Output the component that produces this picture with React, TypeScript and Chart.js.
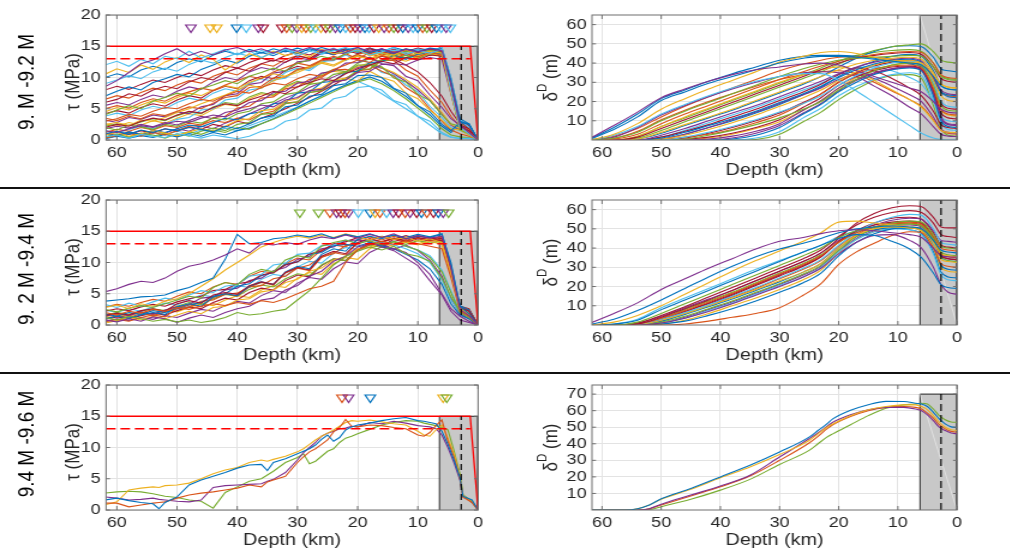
import React, { useEffect, useRef } from 'react';
import { Chart, registerables } from 'chart.js';

Chart.register(...registerables);

// ---------------- data ----------------
const ROW_LABELS = ['9. M -9.2 M', '9. 2 M -9.4 M', '9.4 M -9.6 M'];
const DEPTH_TICKS = [0, 10, 20, 30, 40, 50, 60];
const TAU_TICKS = [0, 5, 10, 15, 20];
const SLIP_TICKS_A = [10, 20, 30, 40, 50, 60];
const SLIP_TICKS_B = [10, 20, 30, 40, 50, 60, 70];

// reference levels (MPa / km)
const STRENGTH = 15;
const DYN_LEVEL = 13;
const TAPER_DEPTH = 1.3;
const TAU_ZONE_DEPTH = 6.4;
const TAU_LOCK_DEPTH = 2.8;
const SLIP_ZONE_DEPTH = 6.25;
const SLIP_LOCK_DEPTH = 2.7;
const SLIP_MAX = [65, 65, 75.5];
const SLIP_ZONE_TOP = [65, 65, 70];
const TRI_LEVEL = 18;

const TAU_DEPTH = [62, 60, 58, 56, 54, 52, 50, 48, 46, 44, 42, 40, 38, 36, 34, 32, 30, 28, 26, 24, 22, 20, 18, 16, 14, 12, 10, 8, 6, 4.5, 3, 1.5, 0];

const TAU_ROW1 = [
  [8.5, 9.5, 10.8, 12.2, 12.8, 13.8, 14.6, 13.5, 14.2, 13.6, 14.4, 14.8, 14.1, 14.6, 13.9, 14.7, 14.2, 14.8, 14.3, 14.6, 14.0, 14.8, 14.2, 14.6, 13.9, 14.5, 14.1, 14.6, 14.3, 9, 2.5, 1.2, 0],
  [12, 12.6, 11.8, 12.9, 12.2, 13.4, 13.0, 14.2, 13.1, 13.8, 14.5, 13.6, 14.3, 13.2, 14.0, 14.6, 13.5, 14.2, 13.8, 14.7, 13.9, 14.4, 13.6, 14.1, 14.8, 13.7, 14.3, 13.9, 14.5, 8, 2, 1, 0],
  [10.5, 11.4, 10.8, 12.0, 11.3, 12.5, 13.2, 12.4, 13.6, 12.9, 11.2, 12.5, 13.8, 13.1, 14.2, 13.5, 14.0, 13.3, 14.5, 13.8, 14.1, 14.6, 13.4, 14.0, 13.6, 14.4, 13.8, 14.2, 13.9, 7.5, 1.8, 1.2, 0],
  [7.0, 7.8, 8.5, 8.0, 9.2, 9.8, 10.5, 10.1, 11.3, 12.0, 12.8, 12.3, 13.4, 14.0, 13.5, 14.3, 13.8, 14.6, 14.1, 13.7, 14.4, 14.8, 14.0, 14.5, 13.8, 14.6, 14.2, 14.7, 14.5, 9.5, 3.0, 2.5, 0],
  [6.0, 6.5, 7.4, 7.0, 8.0, 8.6, 8.2, 9.3, 10.0, 9.6, 10.8, 11.5, 11.0, 12.2, 12.8, 12.4, 13.5, 13.0, 14.2, 13.6, 14.4, 13.8, 14.6, 14.1, 13.7, 14.4, 14.0, 14.6, 14.2, 8.5, 2.2, 1.5, 0],
  [4.0, 4.8, 5.5, 5.0, 6.2, 6.8, 7.5, 7.0, 8.2, 8.8, 9.5, 9.0, 10.2, 10.8, 11.5, 11.0, 12.3, 12.8, 13.4, 12.9, 13.8, 14.3, 13.6, 14.0, 13.5, 14.2, 13.8, 14.4, 14.0, 7.8, 1.6, 1.0, 0],
  [3.0, 3.4, 4.1, 3.8, 4.6, 5.2, 5.0, 5.8, 6.5, 6.2, 7.1, 7.8, 7.5, 8.4, 9.1, 8.8, 9.8, 10.5, 10.2, 11.3, 12.0, 12.8, 12.4, 13.5, 13.0, 13.8, 13.3, 14.0, 13.6, 8.2, 2.0, 1.3, 0],
  [2.0, 2.5, 2.2, 3.0, 3.5, 3.2, 4.0, 4.6, 4.3, 5.2, 5.8, 5.5, 6.4, 7.0, 7.8, 7.4, 8.5, 9.2, 9.8, 9.5, 10.6, 11.4, 12.0, 12.6, 12.2, 13.2, 12.8, 13.6, 13.4, 8.0, 2.4, 1.8, 0],
  [1.5, 1.2, 1.8, 2.3, 2.0, 2.6, 3.0, 2.8, 3.5, 4.0, 3.7, 4.5, 5.0, 5.6, 5.3, 6.4, 6.8, 7.9, 8.1, 9.3, 9.6, 10.8, 11.0, 12.1, 12.2, 12.0, 12.8, 13.2, 12.9, 7.4, 1.9, 1.4, 0],
  [2.5, 2.8, 2.3, 3.2, 3.0, 3.6, 4.4, 5.0, 5.8, 6.5, 7.2, 8.0, 8.8, 8.3, 9.5, 10.2, 10.8, 11.6, 12.3, 11.8, 12.8, 13.4, 12.9, 13.6, 13.1, 12.6, 13.3, 13.9, 13.5, 8.6, 2.6, 1.6, 0],
  [0.5, 0.8, 0.3, 0.9, 0.6, 0.4, 1.0, 0.7, 0.3, 0.8, 0.5, 0.2, 0.6, 1.4, 1.8, 3.0, 3.4, 4.8, 5.1, 6.6, 7.0, 8.4, 8.6, 8.0, 6.3, 5.7, 3.8, 3.0, 1.2, 0.5, 0.2, 0.3, 0],
  [1.0, 1.4, 0.9, 1.6, 1.2, 1.8, 1.5, 2.0, 1.7, 1.3, 2.2, 1.8, 2.6, 3.5, 3.9, 5.3, 5.6, 7.0, 7.3, 8.7, 9.0, 10.3, 10.4, 10.0, 8.3, 7.5, 5.5, 4.5, 2.5, 1.5, 2.8, 1.4, 0],
  [2.0, 1.6, 2.4, 2.1, 1.7, 2.5, 2.2, 3.0, 2.7, 3.5, 3.2, 4.2, 4.6, 5.8, 6.1, 7.3, 7.6, 8.9, 9.2, 10.5, 10.8, 12.0, 12.0, 11.7, 9.9, 9.3, 7.3, 6.3, 4.0, 2.6, 2.2, 1.2, 0],
  [0.8, 1.2, 0.6, 1.0, 1.5, 1.1, 0.7, 1.3, 1.8, 1.4, 2.2, 3.1, 3.4, 4.7, 4.9, 6.2, 6.6, 7.9, 8.3, 9.6, 9.9, 9.4, 11.0, 10.0, 9.4, 7.5, 6.6, 4.8, 3.2, 1.8, 1.6, 0.8, 0],
  [1.8, 2.2, 1.9, 2.5, 2.1, 2.8, 2.4, 3.1, 3.8, 3.4, 4.4, 4.8, 6.0, 6.3, 7.6, 7.8, 9.1, 9.4, 10.7, 11.0, 12.3, 12.4, 13.2, 12.2, 11.9, 10.2, 9.5, 7.2, 5.2, 3.4, 2.4, 1.6, 0],
  [3.5, 3.1, 3.8, 3.4, 4.2, 3.9, 4.6, 5.3, 5.0, 5.9, 6.8, 7.1, 8.4, 8.6, 9.9, 10.1, 11.3, 11.6, 12.8, 12.8, 13.8, 13.0, 14.0, 13.0, 12.7, 11.2, 10.2, 8.0, 6.0, 3.8, 2.1, 1.3, 0],
  [1.0, 0.6, 1.3, 0.9, 1.5, 1.2, 1.8, 2.4, 2.1, 2.8, 3.5, 3.2, 4.2, 4.5, 5.8, 6.0, 7.5, 7.7, 9.2, 9.4, 10.8, 11.0, 12.4, 12.5, 13.6, 12.9, 13.7, 14.1, 13.8, 9.0, 2.8, 2.6, 0],
  [0.5, 0.9, 0.4, 1.1, 0.8, 0.3, 1.0, 0.6, 1.4, 1.9, 1.5, 2.5, 2.8, 4.1, 4.3, 5.8, 6.1, 7.6, 7.9, 9.4, 9.7, 11.2, 11.4, 12.7, 12.8, 13.6, 13.1, 13.8, 13.4, 8.8, 2.4, 1.5, 0],
  [5.0, 5.5, 5.1, 6.0, 6.6, 6.2, 7.1, 7.7, 8.3, 7.9, 8.8, 9.5, 10.2, 9.8, 10.9, 11.6, 12.3, 11.9, 12.8, 13.4, 12.9, 13.7, 14.2, 13.6, 14.1, 13.5, 14.3, 13.9, 14.4, 9.2, 2.6, 1.7, 0],
  [9.0, 9.6, 10.3, 9.8, 10.9, 11.5, 11.0, 12.1, 12.8, 12.3, 13.2, 13.9, 13.4, 14.3, 13.8, 14.5, 14.0, 14.6, 13.7, 14.3, 14.8, 14.1, 14.6, 13.9, 14.4, 14.0, 14.6, 14.2, 14.8, 9.8, 3.2, 2.0, 0],
  [8.0, 8.6, 8.1, 8.9, 9.6, 9.2, 10.0, 10.7, 10.3, 11.2, 11.9, 11.5, 12.4, 13.1, 12.6, 13.5, 14.1, 13.6, 14.4, 13.9, 14.6, 14.2, 14.7, 14.0, 14.5, 14.1, 14.7, 14.3, 14.6, 9.4, 3.0, 1.9, 0],
  [4.5, 5.2, 4.8, 5.6, 6.3, 5.9, 6.8, 7.5, 7.1, 8.0, 8.7, 8.3, 9.2, 9.9, 10.6, 10.2, 11.1, 11.8, 12.5, 12.0, 12.9, 13.5, 13.0, 13.8, 13.3, 14.0, 13.5, 14.2, 13.8, 8.4, 2.2, 1.4, 0],
  [3.2, 2.8, 3.6, 3.3, 4.0, 3.7, 4.5, 4.2, 5.3, 5.7, 7.1, 7.4, 8.9, 9.2, 10.7, 11.0, 12.5, 12.7, 13.9, 14.0, 13.8, 14.5, 13.9, 14.6, 14.0, 14.4, 13.8, 14.3, 14.0, 8.6, 2.3, 1.4, 0],
  [1.2, 1.7, 1.4, 2.0, 1.6, 2.3, 2.0, 2.7, 2.4, 3.1, 2.8, 3.5, 3.2, 4.2, 4.6, 5.9, 6.1, 7.6, 7.9, 9.3, 9.6, 11.1, 11.3, 12.7, 12.8, 13.9, 13.0, 13.9, 13.5, 8.0, 1.9, 1.2, 0],
  [0.3, 0.7, 1.1, 0.6, 1.2, 0.8, 1.5, 2.2, 2.4, 3.6, 3.8, 5.1, 5.4, 6.7, 6.9, 8.2, 8.5, 9.7, 10.0, 11.2, 11.3, 10.8, 12.0, 11.0, 10.2, 8.4, 7.2, 5.0, 3.0, 1.6, 1.0, 0.6, 0],
  [1.5, 1.1, 1.7, 2.2, 1.8, 2.5, 3.3, 3.6, 4.8, 5.0, 6.4, 6.7, 8.0, 8.3, 9.6, 9.9, 11.2, 11.4, 12.6, 12.7, 13.6, 12.8, 12.4, 10.8, 10.4, 8.8, 7.7, 5.4, 3.6, 2.0, 1.5, 0.8, 0],
  [10.0, 10.6, 10.1, 11.2, 11.8, 11.3, 12.4, 13.0, 12.5, 13.6, 14.2, 13.7, 14.5, 13.9, 14.6, 14.1, 14.7, 14.2, 14.8, 14.3, 14.6, 14.0, 14.7, 14.2, 14.8, 14.3, 14.6, 14.1, 14.7, 9.9, 3.4, 2.6, 0],
  [6.5, 7.1, 6.7, 7.6, 8.3, 7.9, 8.8, 9.5, 9.1, 10.2, 10.9, 10.4, 11.5, 12.2, 11.8, 12.9, 13.5, 13.1, 14.0, 14.5, 13.9, 14.4, 13.8, 14.5, 14.0, 14.6, 14.1, 14.5, 14.2, 9.1, 2.7, 1.9, 0],
  [2.2, 2.6, 2.3, 2.9, 3.4, 3.1, 3.9, 4.5, 4.2, 5.3, 6.0, 5.7, 6.9, 7.6, 7.2, 8.6, 9.4, 9.0, 10.5, 11.3, 10.9, 12.3, 13.0, 12.6, 13.6, 13.2, 13.9, 13.5, 14.0, 8.9, 2.5, 1.7, 0],
  [3.8, 4.3, 3.9, 4.8, 5.4, 5.0, 6.0, 6.7, 6.3, 7.5, 8.2, 7.8, 9.1, 9.8, 9.4, 10.8, 11.5, 11.1, 12.4, 13.1, 12.7, 13.8, 14.3, 13.8, 14.2, 13.7, 14.4, 13.9, 14.1, 8.7, 2.1, 1.3, 0],
  [0.8, 1.3, 0.9, 1.5, 1.1, 1.8, 1.4, 2.1, 1.7, 2.5, 2.1, 3.0, 2.6, 3.5, 4.2, 5.0, 5.9, 6.8, 7.8, 8.8, 9.9, 10.9, 11.9, 12.8, 13.5, 13.1, 13.8, 14.2, 13.9, 9.3, 3.1, 2.3, 0],
  [5.5, 6.0, 5.6, 6.5, 7.2, 6.8, 7.8, 8.5, 8.1, 9.3, 10.0, 9.6, 10.9, 11.6, 11.2, 12.5, 13.2, 12.8, 13.9, 14.4, 13.8, 14.5, 14.0, 14.6, 13.9, 14.4, 13.8, 14.5, 14.0, 8.8, 2.4, 1.6, 0],
  [0.4, 0.8, 0.5, 1.0, 0.6, 1.1, 0.7, 1.3, 0.9, 1.6, 1.2, 2.0, 1.7, 2.6, 3.3, 4.1, 5.0, 5.9, 6.8, 7.7, 8.6, 9.3, 9.8, 9.0, 7.9, 6.6, 5.1, 3.6, 1.8, 0.8, 0.5, 0.4, 0],
  [2.6, 2.2, 2.8, 2.4, 3.1, 2.7, 3.5, 4.2, 3.9, 4.9, 5.7, 5.4, 6.6, 7.4, 7.1, 8.4, 9.2, 8.9, 10.3, 11.0, 10.7, 11.8, 12.3, 11.6, 10.8, 9.7, 8.4, 6.6, 4.4, 2.5, 1.8, 1.1, 0],
  [4.2, 4.7, 4.3, 5.2, 5.8, 5.4, 6.4, 7.1, 6.7, 7.9, 8.6, 8.2, 9.5, 10.2, 9.8, 11.1, 11.8, 11.4, 12.6, 13.2, 12.8, 13.6, 13.1, 13.4, 12.9, 12.0, 10.9, 9.2, 7.0, 4.6, 2.6, 1.5, 0],
  [0.2, 0.6, 0.3, 0.7, 0.4, 0.9, 0.5, 1.0, 0.6, 1.2, 0.8, 1.5, 1.9, 2.6, 3.4, 4.3, 5.2, 6.2, 7.1, 8.0, 8.8, 9.5, 10.1, 9.4, 8.2, 7.0, 5.5, 4.0, 2.2, 1.2, 2.5, 1.3, 0],
  [1.1, 0.7, 1.3, 0.9, 1.5, 1.1, 1.8, 1.4, 2.2, 1.8, 2.7, 3.4, 4.2, 5.0, 5.8, 6.7, 7.5, 8.4, 9.2, 10.1, 10.9, 11.6, 12.1, 11.5, 10.6, 9.4, 8.0, 6.3, 4.2, 2.4, 1.6, 0.9, 0],
  [0.9, 0.5, 1.1, 0.7, 1.2, 0.8, 1.4, 1.0, 1.6, 1.2, 1.9, 1.5, 2.3, 3.0, 3.7, 4.5, 5.3, 6.2, 7.0, 7.9, 8.7, 9.4, 8.6, 7.4, 6.2, 5.0, 3.8, 2.4, 1.0, 0.4, 0.3, 0.2, 0],
];
const TAU_ROW1_COLORS = [3, 5, 2, 0, 6, 4, 1, 6, 3, 2, 5, 0, 4, 2, 3, 1, 0, 4, 1, 5, 6, 2, 3, 1, 1, 5, 0, 1, 4, 5, 6, 3, 4, 2, 6, 0, 3, 5];

const TAU_ROW2 = [
  [5.3, 5.8, 6.5, 7.0, 6.8, 7.5, 8.6, 9.4, 9.8, 10.4, 11.2, 12.2, 11.5, 13.0, 12.8, 13.2, 12.9, 13.6, 14.1, 13.8, 14.4, 13.9, 14.5, 14.0, 14.6, 13.8, 14.3, 13.9, 14.2, 9.0, 2.5, 1.5, 0],
  [3.8, 4.0, 4.2, 4.5, 4.6, 4.8, 5.5, 6.0, 6.8, 7.5, 10.5, 14.5, 13.0, 13.2, 13.8, 14.0, 14.4, 14.1, 14.6, 13.9, 14.5, 14.1, 14.6, 14.0, 14.4, 13.8, 14.2, 14.0, 14.5, 10.0, 3.0, 1.8, 0],
  [2.8, 3.2, 2.6, 3.4, 3.0, 3.8, 4.2, 5.0, 6.2, 7.4, 8.8, 10.0, 11.2, 12.5, 13.2, 13.8, 14.2, 13.9, 14.4, 14.0, 14.6, 14.1, 13.6, 14.2, 13.7, 14.0, 13.4, 13.8, 13.2, 8.5, 2.4, 1.6, 0],
  [2.0, 1.6, 2.2, 1.9, 2.5, 2.2, 2.8, 2.5, 3.0, 3.4, 3.1, 3.6, 3.3, 3.9, 3.6, 4.2, 5.0, 5.8, 6.2, 7.0, 10.0, 12.0, 12.8, 13.4, 12.9, 13.5, 13.0, 12.6, 12.2, 7.6, 2.2, 1.4, 0],
  [1.2, 0.8, 1.4, 1.0, 0.6, 0.9, 0.5, 0.8, 0.4, 0.7, 1.2, 2.0, 1.6, 1.8, 2.2, 2.5, 4.0, 5.5, 7.5, 9.6, 11.0, 11.8, 12.5, 12.0, 12.6, 11.4, 11.0, 10.2, 7.5, 4.5, 2.2, 1.5, 0],
  [1.5, 1.9, 1.6, 2.3, 2.6, 2.2, 3.4, 3.9, 3.5, 4.8, 5.2, 4.9, 6.3, 6.9, 6.5, 8.4, 9.2, 8.8, 11.0, 11.8, 11.4, 13.2, 13.8, 13.3, 13.9, 13.5, 14.0, 13.6, 13.9, 8.8, 2.8, 2.2, 0],
  [1.0, 1.4, 1.1, 1.6, 2.0, 1.7, 2.9, 3.4, 3.0, 4.5, 5.0, 4.7, 6.2, 6.9, 6.5, 8.5, 9.4, 9.0, 11.3, 12.2, 11.8, 13.7, 14.2, 13.8, 14.4, 14.0, 14.5, 14.1, 14.6, 9.6, 3.1, 2.4, 0],
  [2.5, 2.1, 2.7, 3.1, 2.8, 3.4, 4.0, 4.6, 4.3, 6.0, 6.8, 6.4, 8.1, 8.9, 8.5, 10.4, 11.1, 10.7, 12.6, 13.2, 13.6, 13.0, 13.5, 12.8, 13.3, 12.6, 12.0, 10.8, 8.5, 5.2, 2.0, 1.2, 0],
  [0.8, 0.5, 1.0, 0.6, 1.3, 1.0, 0.4, 1.1, 1.6, 1.2, 2.0, 2.6, 3.0, 4.0, 4.3, 5.6, 6.3, 7.8, 8.6, 10.2, 11.0, 12.5, 13.0, 12.9, 12.2, 11.6, 10.0, 8.1, 5.0, 2.6, 1.4, 0.6, 0],
  [3.3, 2.8, 3.5, 3.0, 3.7, 4.3, 4.0, 4.8, 5.5, 5.2, 6.2, 6.5, 7.8, 8.1, 9.6, 9.9, 11.3, 11.5, 12.7, 12.8, 13.6, 13.1, 13.7, 13.2, 12.8, 12.2, 11.4, 10.0, 7.2, 4.0, 2.0, 1.4, 0],
  [0.5, 0.9, 0.6, 1.2, 1.6, 1.3, 2.7, 3.3, 2.9, 4.4, 5.0, 4.6, 6.1, 6.8, 6.4, 8.3, 9.1, 8.7, 10.8, 11.6, 11.2, 13.1, 13.7, 13.2, 13.8, 13.4, 13.9, 13.5, 13.8, 8.9, 2.9, 2.5, 0],
  [0.3, 0.7, 1.2, 0.8, 1.4, 1.0, 1.6, 2.2, 1.8, 2.8, 3.0, 4.0, 4.2, 5.3, 5.6, 6.8, 7.3, 8.6, 9.1, 10.4, 10.9, 12.2, 12.4, 13.3, 12.6, 13.3, 12.8, 13.4, 12.9, 8.2, 2.6, 1.8, 0],
  [2.2, 2.6, 2.3, 2.9, 3.3, 3.0, 3.7, 4.2, 4.6, 5.5, 5.7, 6.6, 6.9, 8.0, 8.4, 9.6, 10.1, 11.4, 11.8, 13.0, 13.3, 14.0, 13.6, 14.2, 13.7, 14.3, 13.8, 14.0, 13.5, 8.6, 3.0, 2.6, 0],
  [1.8, 1.4, 2.0, 1.7, 2.3, 2.0, 2.6, 3.2, 3.6, 4.6, 5.0, 6.2, 6.6, 7.9, 8.4, 9.7, 10.1, 11.3, 11.6, 12.7, 12.9, 12.6, 13.2, 12.7, 12.2, 11.3, 10.4, 9.0, 6.5, 3.4, 1.6, 1.0, 0],
  [1.4, 1.8, 1.5, 2.1, 1.7, 2.4, 2.9, 3.3, 4.3, 4.5, 5.6, 5.9, 7.1, 7.5, 8.7, 9.2, 10.5, 11.0, 12.2, 12.5, 13.5, 13.6, 13.3, 12.5, 11.9, 10.7, 9.5, 7.1, 4.8, 2.2, 0.8, 0.4, 0],
  [1.0, 1.5, 1.2, 1.8, 1.5, 2.1, 2.6, 2.9, 3.8, 4.0, 4.9, 5.1, 6.1, 6.3, 7.4, 7.8, 9.1, 9.6, 10.9, 11.4, 12.7, 13.0, 13.8, 13.3, 13.9, 13.4, 14.0, 13.6, 14.2, 9.0, 2.7, 2.2, 0],
  [1.6, 2.0, 1.7, 2.2, 2.6, 2.3, 3.0, 3.6, 3.3, 4.2, 4.9, 4.6, 5.7, 6.4, 6.1, 7.4, 8.2, 7.9, 9.6, 10.6, 10.3, 12.0, 12.8, 12.4, 13.4, 12.9, 13.5, 13.1, 13.4, 8.4, 2.6, 1.9, 0],
  [0.9, 1.3, 1.0, 1.5, 1.9, 1.6, 2.3, 2.9, 2.6, 3.6, 4.3, 4.0, 5.2, 5.9, 5.6, 7.1, 8.0, 7.7, 9.5, 10.6, 10.3, 12.1, 13.0, 12.6, 13.7, 13.2, 13.8, 13.4, 13.6, 8.6, 2.9, 2.4, 0],
  [2.4, 2.0, 2.6, 2.2, 2.9, 3.5, 3.2, 4.1, 4.8, 4.5, 5.6, 6.3, 6.0, 7.3, 8.1, 7.8, 9.3, 10.2, 9.9, 11.5, 12.4, 12.1, 13.3, 12.9, 13.4, 12.6, 12.0, 11.1, 8.8, 5.5, 2.2, 1.3, 0],
  [1.3, 1.7, 1.4, 2.0, 1.7, 2.4, 2.1, 2.8, 3.4, 3.1, 4.0, 4.7, 4.4, 5.6, 6.3, 6.0, 7.5, 8.4, 8.1, 9.8, 10.8, 10.5, 12.2, 13.0, 12.6, 13.5, 13.0, 13.6, 13.2, 8.3, 2.5, 1.7, 0],
  [2.9, 3.3, 3.0, 3.6, 4.1, 3.8, 4.6, 5.3, 5.0, 6.1, 6.8, 6.5, 7.8, 8.6, 8.3, 9.8, 10.7, 10.4, 12.0, 12.8, 12.5, 13.6, 14.1, 13.6, 14.2, 13.7, 14.3, 13.8, 14.1, 9.2, 2.8, 2.3, 0],
  [0.6, 1.0, 0.7, 1.2, 0.9, 1.5, 1.2, 1.9, 2.5, 2.2, 3.1, 3.8, 3.5, 4.7, 5.5, 5.2, 6.7, 7.6, 7.3, 9.0, 10.1, 9.8, 11.6, 12.5, 12.1, 12.8, 11.9, 10.4, 7.8, 4.2, 1.8, 1.0, 0],
];
const TAU_ROW2_COLORS = [3, 0, 2, 1, 4, 6, 0, 4, 3, 5, 1, 2, 6, 0, 3, 1, 4, 6, 5, 2, 1, 3];

const TAU3_DEPTH = [62, 60, 58, 56, 54, 53, 52, 50, 48, 46, 44, 42, 40, 38, 36, 35, 34, 32, 30, 29, 28, 27, 26, 25, 24, 23, 22, 21, 20, 18, 16, 14, 12, 10, 9, 8, 7, 6, 5, 4, 3, 2.5, 2, 1, 0];
const TAU_ROW3 = [
  [1.6, 1.9, 1.5, 1.2, 1.0, 0.2, 1.2, 2.1, 4.0, 4.8, 5.4, 6.0, 6.7, 7.2, 7.3, 6.3, 7.6, 8.2, 9.0, 9.4, 9.8, 10.4, 11.3, 12.0, 11.0, 11.6, 12.8, 13.3, 13.6, 13.9, 14.3, 14.6, 14.8, 14.3, 14.2, 14.0, 13.8, 12.6, 10.5, 8.0, 5.2, 2.2, 2.0, 1.6, 0],
  [1.1, 1.1, 0.5, 0.8, 1.1, 1.2, 1.3, 1.9, 2.4, 2.7, 2.9, 3.2, 3.5, 4.0, 3.7, 4.5, 4.8, 5.4, 7.6, 8.5, 9.3, 9.8, 10.5, 11.2, 12.5, 13.2, 14.5, 13.4, 13.3, 13.6, 13.5, 13.2, 13.0, 12.0, 11.8, 12.4, 13.5, 14.4, 11.0, 8.5, 5.0, 2.0, 1.8, 1.2, 0],
  [0.8, 1.3, 3.2, 3.5, 3.7, 3.6, 3.9, 4.0, 4.3, 5.0, 5.8, 6.4, 6.8, 7.6, 8.0, 7.8, 8.1, 8.6, 9.3, 9.8, 10.5, 11.2, 11.8, 12.3, 12.8, 13.4, 14.0, 14.3, 14.2, 14.4, 14.1, 13.8, 13.6, 12.6, 12.0, 11.8, 12.8, 13.6, 11.5, 9.0, 5.4, 2.3, 2.0, 1.3, 0],
  [2.1, 1.9, 1.6, 1.7, 1.9, 1.7, 1.6, 1.4, 1.3, 1.6, 3.6, 3.9, 4.0, 4.1, 4.2, 4.6, 4.9, 6.0, 8.0, 9.2, 10.0, 10.8, 11.8, 12.3, 12.6, 13.0, 13.1, 13.4, 13.3, 14.0, 13.8, 14.2, 13.9, 13.5, 13.4, 13.3, 13.0, 12.0, 10.0, 7.6, 4.8, 2.2, 1.9, 1.2, 0],
  [2.7, 2.9, 3.0, 2.9, 2.6, 2.4, 2.2, 2.0, 1.6, 1.4, 0.3, 2.8, 3.7, 4.6, 5.0, 5.6, 6.2, 7.6, 8.4, 9.0, 7.4, 7.8, 8.6, 9.4, 9.8, 10.8, 11.5, 11.8, 12.2, 12.9, 13.6, 14.0, 14.3, 14.2, 13.9, 13.7, 13.5, 13.2, 12.8, 9.5, 5.8, 2.4, 2.1, 1.4, 0],
];
const TAU_ROW3_COLORS = [0, 1, 2, 3, 4];

const SLIP_DEPTH = [62, 58, 54, 50, 46, 42, 38, 34, 30, 26, 23, 20, 17, 14, 11, 8, 6, 4, 2.7, 1.5, 0];
const SLIP_ROW1 = [
  [1, 7.5, 14.5, 22, 26.5, 30.5, 34, 36.5, 38, 39.5, 40, 39, 36, 33, 30, 27, 25, 20, 16, 14.5, 14],
  [0.5, 5.5, 12, 20.5, 25, 29.5, 33, 36.5, 40, 42.5, 43.5, 43.5, 43, 42, 41, 40, 39, 33, 28, 26.5, 26],
  [0, 3, 8.5, 16, 21.5, 26.5, 31, 35.5, 40.5, 43.5, 45.5, 46, 45, 43, 41.5, 40.5, 40, 34, 29, 27.5, 27],
  [0, 2.5, 7, 13.5, 18.5, 23, 27, 30.5, 33, 34.5, 34.5, 31, 25.5, 19.5, 13.5, 7.5, 3.5, 1, 0.3, 0, 0],
  [0, 1, 4, 10, 15, 19.5, 24, 28.5, 33, 37, 39.5, 41.5, 42.5, 43, 43.5, 44, 43.5, 38, 33, 31.5, 31],
  [0, 0.5, 3, 8.5, 13.5, 18, 22.5, 27, 31.5, 35.5, 38.5, 41, 43, 44.5, 45.5, 46, 45.5, 40, 34, 32.5, 32],
  [0, 0, 1.5, 6, 10.5, 15, 19.5, 24, 28.5, 33, 36.5, 40, 42.5, 44, 45, 45.5, 44.5, 38, 32, 30.5, 30],
  [0, 0, 0.5, 4, 8, 12, 16, 20.5, 25, 29.5, 33, 36.5, 39.5, 41.5, 42.5, 43, 42, 35, 29, 27.5, 27],
  [0, 0, 0, 2.5, 6, 10, 14, 18, 22.5, 27, 30.5, 34.5, 38, 40.5, 42, 42.5, 41, 33, 26, 24, 23.5],
  [0, 0, 0, 1, 4, 7.5, 11, 15, 19.5, 24, 28, 32.5, 36.5, 39.5, 41.5, 42, 40.5, 33, 25, 22.5, 22],
  [0, 0, 0, 0.5, 2.5, 5.5, 9, 13, 17.5, 22, 26, 31, 35.5, 39, 41, 41.5, 40, 31, 23, 20.5, 20],
  [0, 0, 0, 0, 1.5, 4, 7, 10.5, 14.5, 19, 23, 28.5, 33.5, 37.5, 40, 41, 39.5, 30, 20, 17.5, 17],
  [0, 0, 0, 0, 0.5, 2.5, 5, 8, 11.5, 16, 20, 26, 31.5, 36, 39, 40, 38.5, 29, 18, 15.5, 15],
  [0, 0, 0, 0.3, 1.5, 3, 5.5, 9, 13, 19, 24, 30, 34.5, 37, 38.5, 39, 37.5, 27, 16, 13.5, 13],
  [0, 0, 0, 0, 0.5, 1.5, 3.5, 6.5, 10.5, 17, 22, 28.5, 33, 36, 38, 38.5, 37, 26, 14, 11.5, 11],
  [0, 0, 0, 0, 0, 0.5, 2, 4.5, 8.5, 15.5, 20.5, 27, 31.5, 35, 37, 38, 36.5, 25, 12, 8.5, 8],
  [0, 0, 0, 0, 0, 0, 0.5, 2.5, 6.5, 13.5, 18.5, 25, 30, 34, 36.5, 37.5, 36, 23, 10, 7, 6.5],
  [0, 1.5, 6.5, 13, 18, 22.5, 26.5, 30, 33, 35, 35.5, 35, 33, 28, 23, 17, 13.5, 7, 3, 2, 1.8],
  [0, 0, 2, 7, 12, 16.5, 21, 25.5, 30, 34, 36.5, 38, 36, 31, 26, 21, 17, 10, 5, 4, 3.8],
  [0, 0, 1, 5, 9.5, 14, 18.5, 23, 27.5, 32, 35.5, 39.5, 43.5, 46.5, 48.5, 49.5, 50, 46, 41.5, 40.5, 40],
  [0, 0, 0.5, 3.5, 7.5, 11.5, 15.5, 20, 24.5, 29, 33, 38, 42.5, 46, 48.5, 49, 48.5, 43, 37, 36, 35.5],
  [0, 0, 0, 1.5, 4.5, 8, 12, 16, 20.5, 25, 29, 34, 37.5, 36, 32, 27, 23, 15, 8, 6.5, 6],
  [0, 0, 0, 0, 0, 0, 0, 1, 4.3, 11.5, 16.5, 23, 28, 31.5, 34, 35, 33.5, 21, 9, 5.5, 5],
  [0, 0, 0, 0.5, 3, 6.5, 10.5, 14.5, 19, 23.5, 27, 31.5, 34, 32, 28, 23.5, 20, 12, 5.5, 4, 3.5],
  [0.8, 6.5, 13.5, 21.5, 26, 30.5, 34.5, 38, 41.5, 43.5, 44, 44, 43.5, 42.5, 41, 39.5, 38, 31, 25, 23.5, 23],
  [0, 2, 6, 12, 17.5, 22.5, 27, 31.5, 36, 39.5, 41.5, 43, 43.5, 43, 42, 40.5, 39, 32, 25, 23, 22.5],
  [0, 0, 2, 7, 11.5, 16, 20.5, 25, 29.5, 34, 37.5, 41, 44, 45.5, 46.5, 47, 46, 40, 33.5, 32, 31.5],
  [0, 0, 0, 1.5, 5, 9, 13, 17, 21.5, 26, 29.5, 34, 37.5, 38, 36, 32.5, 29, 20, 12, 10, 9.5],
  [0, 0, 0, 0, 1, 3.5, 6.5, 10, 14, 19.5, 24, 30, 35, 38.5, 40.5, 41.5, 40, 30, 19, 16.5, 16],
  [0, 0, 0, 0, 0, 1, 3, 6, 9.5, 15.5, 20.5, 27, 32.5, 36.5, 39, 40, 38.5, 28, 16, 13, 12.5],
  [0, 0, 0, 0, 0, 0, 1, 3.5, 7.5, 14, 19, 25.5, 31, 34.5, 37, 38, 36.5, 24, 11, 8, 7.5],
  [0, 0.8, 4.5, 10.5, 15.5, 20, 24, 28, 31.5, 34, 35.5, 36, 34.5, 30, 25.5, 21, 17.5, 10.5, 5, 3.5, 3],
  [0, 0, 0, 0.5, 3, 6.5, 10, 14, 18.5, 23.5, 27.5, 33, 37.5, 41, 43.5, 44.5, 43.5, 36, 28.5, 26.5, 26],
  [0, 0, 0, 0, 0, 0, 0, 0.3, 3, 9.5, 14.5, 21, 26.5, 31, 33.5, 34, 32, 18, 6, 2.5, 2],
];
const SLIP_ROW1_COLORS = [3, 0, 2, 5, 4, 1, 6, 2, 3, 0, 2, 5, 4, 1, 6, 3, 0, 3, 2, 4, 0, 6, 5, 3, 0, 1, 4, 5, 6, 2, 3, 1, 0, 4];

const SLIP_ROW2 = [
  [1, 6, 11.5, 18.5, 24, 29.5, 34.5, 39.5, 43.5, 45.5, 47.5, 49, 49.5, 49, 48, 47, 45.5, 40, 36, 35.5, 35.3],
  [0.3, 3, 7.5, 13, 19, 25, 30.5, 35.5, 39.5, 42.5, 45, 48, 50, 51, 51.5, 51, 50, 44, 39, 38, 37.5],
  [0, 1.5, 5, 10, 16, 22, 28, 33.5, 38.5, 43.5, 48, 53.5, 54, 53, 52, 51, 50, 43, 37, 36, 35.5],
  [0, 0.5, 2.5, 8, 13, 18, 23, 28, 33, 38, 41.5, 45, 47, 46.5, 43.5, 39.5, 35, 27, 21, 19.5, 19],
  [0, 0, 1.5, 6, 11, 16, 21, 26, 31, 36, 40, 45.5, 49, 51, 52, 52.5, 51.5, 45, 38, 36.5, 36],
  [0, 0, 1, 5, 9.5, 14.5, 19.5, 24.5, 29.5, 34.5, 39, 46, 52, 56, 58.5, 59.5, 58.5, 53, 47, 46, 45.5],
  [0, 0, 0.5, 4, 8.5, 13, 18, 23, 28, 33, 37.5, 45, 53, 58, 61, 62, 61.5, 56, 51, 50.5, 50.5],
  [0, 0, 0.5, 3.5, 7.5, 12, 16.5, 21.5, 26.5, 31.5, 36, 43, 48, 51, 52.5, 53, 52, 46, 40, 39, 38.5],
  [0, 0, 0.5, 3, 6.5, 10.5, 15, 19.5, 24.5, 29.5, 34, 41.5, 48, 53, 56, 57.5, 57, 50, 43, 42, 41.5],
  [0, 0, 0, 1, 3.5, 7, 11, 15.5, 20, 25, 29.5, 37, 43, 46.5, 47, 44, 40, 30, 21, 17, 16],
  [0, 0, 0, 0, 0.5, 2, 4, 6, 9, 15.5, 21.5, 31.5, 38, 42.5, 46.5, 48.5, 48, 40, 32, 30.5, 30],
  [0, 0, 0.3, 2.5, 6, 10, 14, 18.5, 23, 27.5, 32, 40, 46.5, 50, 51, 50.5, 49, 41, 34, 33, 32.5],
  [0, 0, 0, 1.5, 4.5, 8.5, 12.5, 17, 21.5, 26.5, 31, 39, 46, 50, 53, 54, 53.5, 47, 41, 40, 39.5],
  [0, 0, 0, 0.5, 2, 5, 8.5, 12.5, 17, 22, 27, 36, 43, 47.5, 50, 50.5, 49.5, 41, 31, 29, 28.5],
  [0, 0, 0.5, 3, 7, 11, 15.5, 20.5, 25.5, 30.5, 35.5, 43.5, 49, 52, 53.5, 54, 53, 45.5, 36, 34.5, 34],
  [0, 0, 0, 1, 3.5, 7.5, 11.5, 16, 20.5, 25, 30, 38, 44.5, 48.5, 50, 49.5, 47, 37, 26, 23.5, 23],
  [0, 0, 1, 4.5, 9, 13.5, 18, 23, 28, 33, 37.5, 44, 48.5, 52, 54.5, 55.5, 55, 49, 44, 43.5, 43],
  [0, 0, 0.5, 3.5, 8, 12.5, 17, 22, 27, 32, 36.5, 43, 48, 51, 52.5, 52.5, 51.5, 44, 35.5, 33.5, 33],
  [0, 0, 0, 2, 5.5, 9.5, 13.5, 18, 22.5, 27.5, 32, 40, 46, 49.5, 50.5, 49.5, 47.5, 38, 27.5, 25, 24.5],
  [0, 0, 0, 0.5, 2.5, 6, 10, 14, 18.5, 23.5, 28.5, 37.5, 44.5, 48.5, 50.5, 50.5, 49, 40, 30, 28, 27.5],
  [0, 0, 0.3, 2.5, 6, 10, 14.5, 19, 24, 29, 33.5, 41, 47, 51, 53, 53.5, 52.5, 45, 37, 35.5, 35],
  [0, 0, 0, 1, 4, 8, 12, 16.5, 21, 26, 30.5, 38.5, 45, 49, 51.5, 52, 51, 43.5, 36, 34.5, 34],
  [0, 0.5, 3, 9, 14, 19, 24, 29, 33.5, 38, 41.5, 46, 49, 50.5, 51, 50.5, 49, 42, 35, 33.5, 33],
  [0, 0, 0.5, 3, 7, 11.5, 16, 21, 26, 31, 35.5, 43, 49, 53, 55.5, 56, 55, 48, 41.5, 40.5, 40],
];
const SLIP_ROW2_COLORS = [3, 0, 2, 0, 4, 6, 6, 1, 5, 3, 1, 2, 4, 0, 6, 5, 3, 4, 0, 2, 1, 3, 5, 6];

const SLIP3_DEPTH = [62, 56, 54, 52, 50, 45, 40, 35, 30, 25, 23.5, 22, 21, 18, 15, 12, 9, 7, 6, 5, 4, 3, 2, 1, 0];
const SLIP_ROW3 = [
  [0, 0, 0.8, 3, 6.8, 13, 20, 27, 35, 44, 48, 52, 55, 60.2, 63.6, 65.6, 65.5, 64.5, 64, 62.5, 59, 55, 52, 50.2, 49.8],
  [0, 0, 0.8, 3, 6.5, 12.5, 19.5, 26, 33.5, 42, 46, 50, 52, 57, 60.5, 62.5, 63.5, 63.5, 62.5, 60.5, 57, 53, 50, 48.5, 48],
  [0, 0, 0, 0.8, 3.5, 9, 14.5, 21, 32, 43, 46.5, 50.5, 53, 57.5, 60.5, 62, 62, 61, 60, 57.5, 54, 50, 48, 46.5, 46],
  [0, 0, 0, 0.8, 3, 8.5, 14, 20.5, 30, 40.5, 44.5, 49, 51.5, 56.5, 60, 62, 62.5, 62, 61, 58.5, 55.5, 51.5, 49, 47.5, 47],
  [0, 0, 0, 0.3, 2, 6.5, 12, 18.5, 27.5, 36, 40, 44, 46, 51.5, 57, 61.5, 63.5, 64, 64.5, 64, 61, 57, 54.5, 53.2, 53],
];
const SLIP_ROW3_COLORS = [0, 2, 3, 1, 4];

const TRI_ROW1_X = [47.7, 44.5, 43.4, 40.1, 38.5, 36.5, 35.7, 32.6, 31.8, 30.9, 30.1, 29.3, 28.6, 27.8, 27.0, 26.1, 25.3, 24.6, 23.7, 22.9, 22.0, 21.2, 20.4, 19.6, 18.8, 18.1, 17.3, 16.5, 15.6, 14.8, 14.0, 13.3, 12.5, 11.6, 10.8, 10.0, 9.2, 8.5, 7.7, 6.9, 6.1, 5.3, 4.6];
const TRI_ROW1_C = [3, 2, 2, 0, 5, 3, 6, 6, 1, 4, 3, 2, 1, 4, 5, 2, 6, 4, 3, 0, 5, 1, 6, 3, 0, 5, 6, 2, 3, 1, 4, 6, 0, 3, 5, 0, 1, 4, 6, 0, 5, 3, 5];
const TRI_ROW2_X = [29.6, 26.5, 24.6, 23.5, 22.8, 22.1, 21.5, 19.9, 17.9, 17.1, 16.3, 15.2, 14.1, 13.2, 12.1, 11.3, 10.2, 9.4, 8.5, 7.4, 6.6, 5.8, 4.9];
const TRI_ROW2_C = [4, 4, 1, 3, 6, 1, 3, 5, 0, 2, 1, 5, 3, 6, 1, 3, 6, 0, 1, 6, 0, 3, 4];
const TRI_ROW3_X = [22.6, 21.5, 17.9, 5.8, 5.2];
const TRI_ROW3_C = [1, 3, 0, 2, 4];

// ---------------- styling ----------------
const S = 1.2; // horizontal stretch of the figure
const FONT = "'Liberation Sans', Arial, Helvetica, sans-serif";
const TEXT = '#262626';
const FRAME = '#6f6f6f';
const GRID = '#e3e3e3';
const ZONE = '#c8c8c8';
const PALETTE = ['#0072BD', '#D95319', '#EDB120', '#7E2F8E', '#77AC30', '#4DBEEE', '#A2142F'];
const ROW_TOP = [0, 185, 370];
const ROW_LABEL_Y = [82, 84, 74];

Chart.defaults.font.family = FONT;
Chart.defaults.color = TEXT;

type Part = { t: string; size: number; rise?: number };

function drawRotated(ctx: CanvasRenderingContext2D, parts: Part[], x: number, y: number, color: string) {
  ctx.save();
  ctx.translate(x, y);
  ctx.rotate(-Math.PI / 2);
  ctx.fillStyle = color;
  ctx.textBaseline = 'middle';
  ctx.textAlign = 'left';
  let total = 0;
  const widths = parts.map((p) => {
    ctx.font = `${p.size}px ${FONT}`;
    const w = ctx.measureText(p.t).width;
    total += w;
    return w;
  });
  let cx = -total / 2;
  parts.forEach((p, i) => {
    ctx.font = `${p.size}px ${FONT}`;
    ctx.fillText(p.t, cx, -(p.rise || 0));
    cx += widths[i];
  });
  ctx.restore();
}

const decorPlugin = {
  id: 'decor',
  afterDraw(chart: any) {
    const o = chart.options.plugins.decor;
    const { ctx, chartArea: a } = chart;
    const xs = chart.scales.x;
    const ys = chart.scales.y;
    ctx.save();
    ctx.strokeStyle = FRAME;
    ctx.lineWidth = 1;
    ctx.beginPath();
    const tl = 4;
    for (const v of DEPTH_TICKS) {
      const p = xs.getPixelForValue(v);
      ctx.moveTo(p, a.bottom); ctx.lineTo(p, a.bottom - tl);
      ctx.moveTo(p, a.top); ctx.lineTo(p, a.top + tl);
    }
    for (const v of o.yTicks) {
      const p = ys.getPixelForValue(v);
      ctx.moveTo(a.left, p); ctx.lineTo(a.left + tl / S, p);
      ctx.moveTo(a.right, p); ctx.lineTo(a.right - tl / S, p);
    }
    ctx.stroke();
    ctx.strokeRect(a.left, a.top, a.right - a.left, a.bottom - a.top);
    ctx.restore();
    drawRotated(ctx, o.yTitle, o.yTitleX, o.yTitleY, TEXT);
    if (o.rowLabel) drawRotated(ctx, [{ t: o.rowLabel, size: 19 }], o.rowX, o.rowY, '#000');
  },
};

function scalesFor(xMax: number, yMax: number, yTicks: number[], yWidth: number) {
  return {
    x: {
      type: 'linear', reverse: true, min: 0, max: xMax,
      afterBuildTicks: (s: any) => { s.ticks = DEPTH_TICKS.map((v) => ({ value: v })); },
      afterFit: (s: any) => { s.height = 40; },
      grid: { color: GRID, lineWidth: 1, drawTicks: false },
      border: { display: false },
      ticks: { font: { size: 15 }, color: TEXT, padding: 3.5, maxRotation: 0, autoSkip: false },
      title: { display: true, text: 'Depth (km)', font: { size: 16.5 }, color: TEXT, padding: { top: 0, bottom: 0 } },
    },
    y: {
      type: 'linear', min: 0, max: yMax,
      afterBuildTicks: (s: any) => { s.ticks = yTicks.map((v) => ({ value: v })); },
      afterFit: (s: any) => { s.width = yWidth; },
      grid: { color: GRID, lineWidth: 1, drawTicks: false },
      border: { display: false },
      ticks: { font: { size: 15 }, color: TEXT, padding: 4.5, autoSkip: false },
    },
  };
}

const pts = (xs: number[], ys: number[]) => xs.map((x, i) => ({ x, y: ys[i] }));

function curveSets(depth: number[], curves: number[][], colors: number[], smooth: boolean) {
  return curves.map((vals, i) => ({
    data: pts(depth, vals),
    borderColor: PALETTE[colors[i]],
    borderWidth: 1.1,
    pointRadius: 0,
    fill: false,
    tension: 0,
    cubicInterpolationMode: smooth ? 'monotone' : 'default',
    order: 5,
  }));
}

function zoneSets(zoneDepth: number, zoneTop: number) {
  return [
    { data: pts([zoneDepth, 0], [zoneTop, zoneTop]), borderWidth: 0, borderColor: 'rgba(0,0,0,0)', backgroundColor: ZONE, fill: 'origin', pointRadius: 0, order: 9 },
    { data: pts([zoneDepth, zoneDepth, 0, 0], [0, zoneTop, zoneTop, 0]), borderWidth: 1, borderColor: '#222', fill: false, pointRadius: 0, order: 8 },
  ];
}

function tauConfig(r: number) {
  const depth = r === 2 ? TAU3_DEPTH : TAU_DEPTH;
  const curves = [TAU_ROW1, TAU_ROW2, TAU_ROW3][r];
  const colors = [TAU_ROW1_COLORS, TAU_ROW2_COLORS, TAU_ROW3_COLORS][r];
  const triX = [TRI_ROW1_X, TRI_ROW2_X, TRI_ROW3_X][r];
  const triC = [TRI_ROW1_C, TRI_ROW2_C, TRI_ROW3_C][r];
  const xMax = 61.8;
  const datasets: any[] = [
    ...zoneSets(TAU_ZONE_DEPTH, STRENGTH),
    ...curveSets(depth, curves, colors, false),
    { data: pts([xMax, TAPER_DEPTH, 0], [STRENGTH, STRENGTH, 0]), borderColor: '#ff0000', borderWidth: 1.3, pointRadius: 0, fill: false, order: 3 },
    { data: pts([xMax, TAPER_DEPTH], [DYN_LEVEL, DYN_LEVEL]), borderColor: '#ff0000', borderWidth: 1.3, borderDash: [8, 4], pointRadius: 0, fill: false, order: 3 },
    { data: pts([TAU_LOCK_DEPTH, TAU_LOCK_DEPTH], [0, STRENGTH]), borderColor: '#000', borderWidth: 1.2, borderDash: [6, 4], pointRadius: 0, fill: false, order: 2 },
    {
      data: triX.map((x) => ({ x, y: TRI_LEVEL })), showLine: false, pointStyle: 'triangle', pointRotation: 180,
      pointRadius: 5, pointBorderWidth: 1.2, pointBorderColor: triC.map((c) => PALETTE[c]), pointBackgroundColor: 'rgba(0,0,0,0)', order: 0,
    },
  ];
  return {
    type: 'line',
    data: { datasets },
    options: {
      responsive: false, animation: false, events: [],
      layout: { padding: { left: 0, right: 420 - 478 / S, top: 15, bottom: 5 } },
      plugins: {
        legend: { display: false }, tooltip: { enabled: false },
        decor: { yTicks: TAU_TICKS, yTitle: [{ t: 'τ (MPa)', size: 17 }], yTitleX: 73 / S, yTitleY: 82, rowLabel: ROW_LABELS[r], rowX: 27 / S, rowY: ROW_LABEL_Y[r] },
      },
      scales: scalesFor(xMax, 20, TAU_TICKS, 106 / S),
    },
    plugins: [decorPlugin],
  };
}

function slipConfig(r: number) {
  const depth = r === 2 ? SLIP3_DEPTH : SLIP_DEPTH;
  const curves = [SLIP_ROW1, SLIP_ROW2, SLIP_ROW3][r];
  const colors = [SLIP_ROW1_COLORS, SLIP_ROW2_COLORS, SLIP_ROW3_COLORS][r];
  const yTicks = r === 2 ? SLIP_TICKS_B : SLIP_TICKS_A;
  const top = SLIP_ZONE_TOP[r];
  const xMax = 61.7;
  const datasets: any[] = [
    ...zoneSets(SLIP_ZONE_DEPTH, top),
    { data: pts([SLIP_ZONE_DEPTH, 0], [top, 0]), borderColor: 'rgba(255,255,255,0.45)', borderWidth: 1, pointRadius: 0, fill: false, order: 7 },
    ...curveSets(depth, curves, colors, true),
    { data: pts([SLIP_LOCK_DEPTH, SLIP_LOCK_DEPTH], [0, top]), borderColor: '#000', borderWidth: 1.2, borderDash: [7, 4], pointRadius: 0, fill: false, order: 2 },
  ];
  return {
    type: 'line',
    data: { datasets },
    options: {
      responsive: false, animation: false, events: [],
      layout: { padding: { left: 0, right: 410 - (957 - 526) / S, top: 15, bottom: 5 } },
      plugins: {
        legend: { display: false }, tooltip: { enabled: false },
        decor: {
          yTicks,
          yTitle: [{ t: 'δ', size: 17 }, { t: 'D', size: 11.5, rise: 7 }, { t: ' (m)', size: 17 }],
          yTitleX: (551.5 - 526) / S, yTitleY: 77.5,
        },
      },
      scales: scalesFor(xMax, SLIP_MAX[r], yTicks, (592 - 526) / S),
    },
    plugins: [decorPlugin],
  };
}

function Panel({ left, top, width, height, make }: { left: number; top: number; width: number; height: number; make: () => any }) {
  const ref = useRef<HTMLCanvasElement | null>(null);
  useEffect(() => {
    const chart = new Chart(ref.current as HTMLCanvasElement, make());
    return () => chart.destroy();
  }, []);
  return (
    <canvas
      ref={ref}
      width={Math.round(width / S)}
      height={height}
      style={{ position: 'absolute', left, top, width, height }}
    />
  );
}

export default function App() {
  return (
    <div style={{ position: 'fixed', left: 0, top: 0, width: 1032, height: 558, background: '#fff', overflow: 'hidden' }}>
      {[0, 1, 2].map((r) => (
        <React.Fragment key={r}>
          <Panel left={0} top={ROW_TOP[r]} width={504} height={185} make={() => tauConfig(r)} />
          <Panel left={526} top={ROW_TOP[r]} width={492} height={185} make={() => slipConfig(r)} />
        </React.Fragment>
      ))}
      <div style={{ position: 'absolute', left: 0, top: 187, width: 1010, height: 2, background: '#111', zIndex: 2 }} />
      <div style={{ position: 'absolute', left: 0, top: 372, width: 1010, height: 2, background: '#111', zIndex: 2 }} />
    </div>
  );
}
